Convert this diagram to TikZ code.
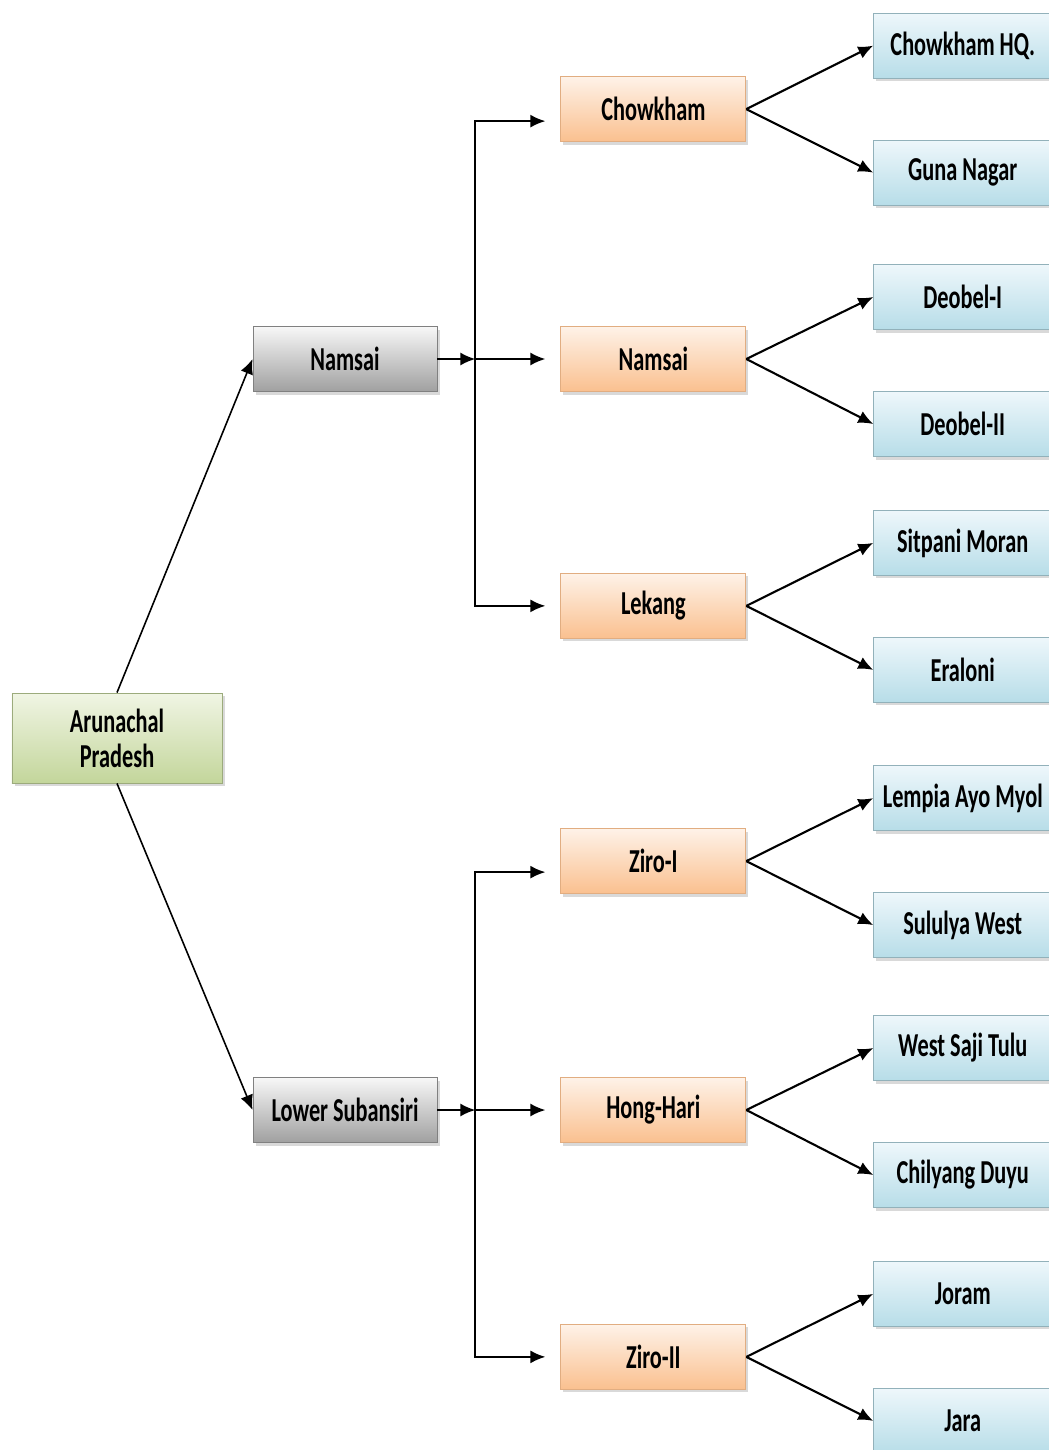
\documentclass[tikz,border=0pt]{standalone}
\usepackage{fontspec}
\setmainfont{Carlito}
\usepackage{graphicx}
\usepackage{tikz}
\usetikzlibrary{arrows.meta, positioning, shadows}
\definecolor{rootgreen}{RGB}{195,214,155}
\definecolor{rootpale}{RGB}{240,245,228}
\definecolor{distgray}{RGB}{160,160,160}
\definecolor{circpeach}{RGB}{250,192,143}
\definecolor{circpale}{RGB}{254,242,232}
\definecolor{sectblue}{RGB}{183,221,232}
\definecolor{sectpale}{RGB}{238,247,251}
\newcommand{\tall}[1]{\scalebox{1}[1.5]{#1}}

\begin{document}
\begin{tikzpicture}[
  box/.style={rectangle, minimum height=1.3cm, align=center, line width=0.5pt,
    font=\bfseries\fontsize{12.7}{15}\selectfont,
    drop shadow={shadow xshift=0.05cm, shadow yshift=-0.06cm, opacity=0.3}},
  statebox/.style={box, draw=rootgreen!80!black, top color=rootpale, bottom color=rootgreen, minimum width=4.2cm, minimum height=1.8cm},
  distbox/.style={box, draw=distgray!80!black, top color=white!94!gray, bottom color=distgray, minimum width=3.68cm},
  circbox/.style={box, draw=circpeach!90!black, top color=circpale, bottom color=circpeach, minimum width=3.7cm},
  sectbox/.style={box, draw=sectblue!80!black, top color=sectpale, bottom color=sectblue, minimum width=3.56cm},
  arrow/.style={-{Latex[length=3mm, width=2.6mm]}, line width=1.2pt},
  bus/.style={arrow, shorten >=0.3cm},
]
  \useasboundingbox (0,0) rectangle (20.98,-29);

  % state and districts
  \node[statebox] (ap) at (2.34,-14.76) {\tall{Arunachal}\\[5pt]\tall{Pradesh}};
  \node[distbox] (dn) at (6.9,-7.18) {\tall{Namsai}};
  \node[distbox] (dl) at (6.9,-22.2) {\tall{Lower Subansiri}};

  % circles
  \node[circbox, right=2.46cm of dn] (cn) {\tall{Namsai}};
  \node[circbox, above=3.68cm of cn] (cc) {\tall{Chowkham}};
  \node[circbox, below=3.62cm of cn] (cl) {\tall{Lekang}};
  \node[circbox, right=2.46cm of dl] (ch) {\tall{Hong-Hari}};
  \node[circbox, above=3.66cm of ch] (cz1) {\tall{Ziro-I}};
  \node[circbox, below=3.62cm of ch] (cz2) {\tall{Ziro-II}};

  % sectors
  \node[sectbox, right=2.54cm of cc, yshift=1.27cm] (s1) {\tall{Chowkham HQ.}};
  \node[sectbox, right=2.54cm of cc, yshift=-1.27cm] (s2) {\tall{Guna Nagar}};
  \node[sectbox, right=2.54cm of cn, yshift=1.24cm] (s3) {\tall{Deobel-I}};
  \node[sectbox, right=2.54cm of cn, yshift=-1.3cm] (s4) {\tall{Deobel-II}};
  \node[sectbox, right=2.54cm of cl, yshift=1.26cm] (s5) {\tall{Sitpani Moran}};
  \node[sectbox, right=2.54cm of cl, yshift=-1.28cm] (s6) {\tall{Eraloni}};
  \node[sectbox, right=2.54cm of cz1, yshift=1.26cm] (s7) {\tall{Lempia Ayo Myol}};
  \node[sectbox, right=2.54cm of cz1, yshift=-1.28cm] (s8) {\tall{Sululya West}};
  \node[sectbox, right=2.54cm of ch, yshift=1.24cm] (s9) {\tall{West Saji Tulu}};
  \node[sectbox, right=2.54cm of ch, yshift=-1.3cm] (s10) {\tall{Chilyang Duyu}};
  \node[sectbox, right=2.54cm of cz2, yshift=1.26cm] (s11) {\tall{Joram}};
  \node[sectbox, right=2.54cm of cz2, yshift=-1.28cm] (s12) {\tall{Jara}};

  % state to districts
  \draw[arrow, line width=0.9pt] (ap.north) -- (dn.west);
  \draw[arrow, line width=0.9pt] (ap.south) -- (dl.west);

  % districts to circles
  \coordinate[right=0.76cm of dn.east] (jn);
  \coordinate[right=0.76cm of dl.east] (jl);
  \draw[arrow] (dn.east) -- (jn);
  \draw[arrow] (dl.east) -- (jl);
  \draw[bus] (jn) |- ([yshift=-0.24cm]cc.west);
  \draw[bus] (jn) -- (cn.west);
  \draw[bus] (jn) |- (cl.west);
  \draw[bus] (jl) |- ([yshift=-0.22cm]cz1.west);
  \draw[bus] (jl) -- (ch.west);
  \draw[bus] (jl) |- (cz2.west);

  % circles to sectors
  \foreach \c/\a/\b in {cc/s1/s2, cn/s3/s4, cl/s5/s6, cz1/s7/s8, ch/s9/s10, cz2/s11/s12} {
    \draw[arrow] (\c.east) -- (\a.west);
    \draw[arrow] (\c.east) -- (\b.west);
  }
\end{tikzpicture}
\end{document}
